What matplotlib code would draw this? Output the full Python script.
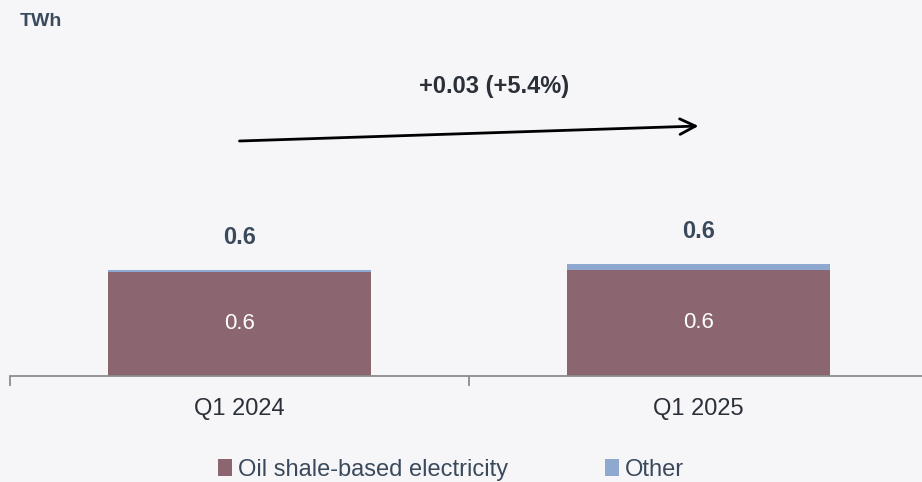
import matplotlib
matplotlib.use("Agg")
import matplotlib.pyplot as plt
import numpy as np
from matplotlib.patches import Patch

plt.rcParams["font.family"] = ["Liberation Sans", "DejaVu Sans"]

# Quarterly electricity production, TWh
quarters = ["Q1 2024", "Q1 2025"]
oil_shale = [0.550, 0.562]
other = [0.012, 0.0303]

OIL_COLOR = "#8B6670"
OTHER_COLOR = "#8FA8D0"
TEXT_COLOR = "#3A4A5C"
BG = "#F6F6F8"
AXIS_COLOR = "#8C8C8C"

oil = np.array(oil_shale)
oth = np.array(other)
total = oil + oth
diff = total[1] - total[0]
pct = diff / total[0] * 100.0

px_per_unit = 106.0 / total[0]

fig = plt.figure(figsize=(9.22, 4.82), dpi=100, facecolor=BG)
ax = fig.add_axes([10 / 922, 106.5 / 482, 918 / 922, 375.5 / 482])
ax.set_facecolor(BG)

x = np.arange(len(quarters))
bar_w = 0.571
ax.bar(x, oil, bar_w, color=OIL_COLOR, linewidth=0)
ax.bar(x, oth, bar_w, bottom=oil, color=OTHER_COLOR, linewidth=0)

for i in range(len(quarters)):
    ax.text(x[i], oil[i] / 2, f"{oil[i]:.1f}", ha="center", va="center",
            color="white", fontsize=16)
    ax.annotate(f"{total[i]:.1f}", (x[i], total[i]), xytext=(0, 23),
                textcoords="offset points", ha="center", va="center",
                color=TEXT_COLOR, fontsize=17, fontweight="bold")

# change arrow between the two quarters
y0 = 234.5 / px_per_unit
y1 = 249.5 / px_per_unit
ax.annotate("", xy=(x[1], y1), xytext=(x[0], y0),
            arrowprops=dict(arrowstyle="->", color="black", lw=2.0,
                            mutation_scale=28, shrinkA=0, shrinkB=0))
ax.text((x[0] + x[1]) / 2 + 0.055, 288.5 / px_per_unit,
        f"+{diff:.2f} (+{pct:.1f}%)",
        ha="center", va="center", color="#2A2F38", fontsize=17,
        fontweight="bold")

ax.set_xlim(-0.5, 1.5)
ax.set_ylim(0, 375.5 / px_per_unit)
ax.set_xticks(x)
ax.set_xticklabels(quarters, fontsize=17, color="#2A2F38")
ax.tick_params(axis="x", which="major", length=0, pad=16)
ax.set_xticks([-0.5, 0.5, 1.5], minor=True)
ax.tick_params(axis="x", which="minor", length=7, width=1.3, color=AXIS_COLOR)
ax.set_yticks([])
for s in ("top", "right", "left"):
    ax.spines[s].set_visible(False)
ax.spines["bottom"].set_color(AXIS_COLOR)
ax.spines["bottom"].set_linewidth(1.3)

fig.text(20 / 922, 1 - 21 / 482, "TWh", ha="left", va="center",
         fontsize=14, fontweight="bold", color=TEXT_COLOR)

handles = [Patch(facecolor=OIL_COLOR, label="Oil shale-based electricity"),
           Patch(facecolor=OTHER_COLOR, label="Other")]
fig.legend(handles=handles, loc="center", bbox_to_anchor=(451 / 922, 1 - 470 / 482),
           ncol=2, frameon=False, fontsize=17, labelcolor=TEXT_COLOR,
           handlelength=0.6, handleheight=0.75, handletextpad=0.25,
           columnspacing=4.1, borderpad=0)

fig.savefig("out.png", dpi=100, facecolor=BG)
